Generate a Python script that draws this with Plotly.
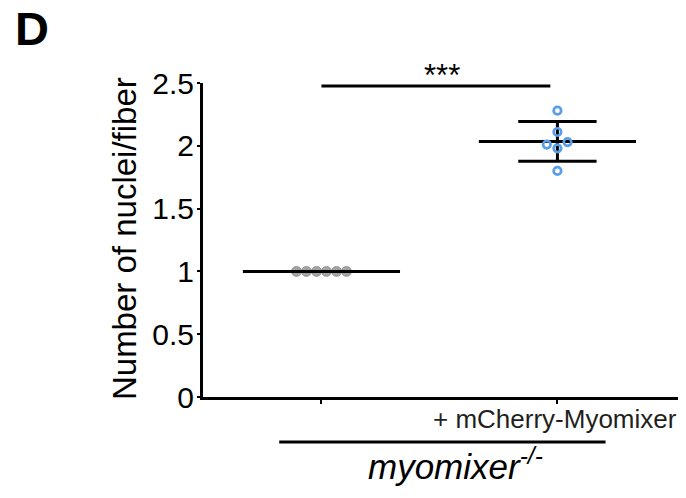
import numpy as np
import plotly.graph_objects as go

# ---- data ----
group_labels = ["", "+ mCherry-Myomixer"]
ctrl_values = [1.0, 1.0, 1.0, 1.0, 1.0, 1.0]
rescue_values = [2.28, 2.11, 2.01, 2.03, 1.98, 1.80]
y_tickvals = [0, 0.5, 1, 1.5, 2, 2.5]
y_ticktext = ["0", "0.5", "1", "1.5", "2", "2.5"]
significance = "***"
genotype_label = "<i>myomixer<sup>-/-</sup></i>"

# ---- layout helpers (positions / styles) ----
ctrl_offsets = [-0.106, -0.064, -0.021, 0.021, 0.064, 0.106]
rescue_offsets = [0.0, 0.0, -0.045, 0.043, 0.0, 0.0]
mean_half = 0.333
cap_half = 0.166
FONT = "Liberation Sans, Arial, sans-serif"
BLUE = "#5a9ee8"
GREY = "#a3a3a3"

fig = go.Figure()

# control points
fig.add_trace(go.Scatter(
    x=[0 + o for o in ctrl_offsets], y=ctrl_values, mode="markers",
    marker=dict(size=10, color=GREY, line=dict(color="#8f8f8f", width=0.8)),
    cliponaxis=False, showlegend=False, hoverinfo="skip"))

# mean lines
m0 = float(np.mean(ctrl_values))
m1 = float(np.mean(rescue_values))
sd1 = float(np.std(rescue_values, ddof=1))
for cx, m in [(0, m0), (1, m1)]:
    fig.add_trace(go.Scatter(x=[cx - mean_half, cx + mean_half], y=[m, m], mode="lines",
                             line=dict(color="black", width=3), showlegend=False,
                             hoverinfo="skip", cliponaxis=False))
# SD bars
fig.add_trace(go.Scatter(x=[1, 1], y=[m1 - sd1, m1 + sd1], mode="lines",
                         line=dict(color="black", width=3), showlegend=False, hoverinfo="skip"))
for v in [m1 - sd1, m1 + sd1]:
    fig.add_trace(go.Scatter(x=[1 - cap_half, 1 + cap_half], y=[v, v], mode="lines",
                             line=dict(color="black", width=3), showlegend=False, hoverinfo="skip"))

# rescue points
fig.add_trace(go.Scatter(
    x=[1 + o for o in rescue_offsets], y=rescue_values, mode="markers",
    marker=dict(symbol="circle-open", size=7.5, color=BLUE, line=dict(color=BLUE, width=2.7)),
    cliponaxis=False, showlegend=False, hoverinfo="skip"))

# significance line
sig_y = 2.476
fig.add_trace(go.Scatter(x=[0, 0.97], y=[sig_y, sig_y], mode="lines",
                         line=dict(color="black", width=3), showlegend=False,
                         hoverinfo="skip", cliponaxis=False))

annotations = [
    dict(text=significance, x=0.51, y=sig_y, xref="x", yref="y", showarrow=False,
         yanchor="bottom", yshift=-9, font=dict(family=FONT, size=31, color="black")),
    dict(text=group_labels[1], x=1, y=-0.07, xref="x", yref="paper", showarrow=False,
         xshift=-2, yanchor="middle", font=dict(family=FONT, size=26, color="#231f20")),
    dict(text=genotype_label, x=0.57, y=-0.213, xref="x", yref="paper", showarrow=False,
         yanchor="middle", font=dict(family=FONT, size=35, color="black")),
    dict(text="Number of nuclei/fiber", x=0, y=0.503, xref="paper", yref="paper",
         xshift=-79, showarrow=False, textangle=-90, xanchor="center", yanchor="middle",
         font=dict(family=FONT, size=33, color="black")),
    dict(text="<b>D</b>", x=-0.40, y=1.264, xref="paper", yref="paper", showarrow=False,
         xanchor="left", yanchor="top", font=dict(family=FONT, size=47, color="black")),
]

fig.update_layout(
    width=686, height=498,
    margin=dict(l=203, r=8, t=83, b=101),
    paper_bgcolor="white", plot_bgcolor="white",
    annotations=annotations,
    shapes=[dict(type="line", xref="x", yref="paper", x0=-0.179, x1=1.204,
                 y0=-0.143, y1=-0.143, line=dict(color="black", width=3))],
    xaxis=dict(range=[-0.502, 1.511], tickvals=[0, 1], showticklabels=False,
               showline=True, linecolor="black", linewidth=3, ticks="outside",
               ticklen=4, tickwidth=1.5, tickcolor="black", showgrid=False,
               zeroline=False, fixedrange=True),
    yaxis=dict(range=[0, 2.5], tickvals=y_tickvals, ticktext=y_ticktext,
               showline=True, linecolor="black", linewidth=3, ticks="outside",
               ticklen=3, tickwidth=1.5, tickcolor="black", showgrid=False,
               ticklabelstandoff=-3,
               zeroline=False, tickfont=dict(family=FONT, size=30, color="black"),
               fixedrange=True),
    showlegend=False,
)

fig.write_html("out.html", config={"displayModeBar": False},
               post_script="document.body.style.margin='0';")
